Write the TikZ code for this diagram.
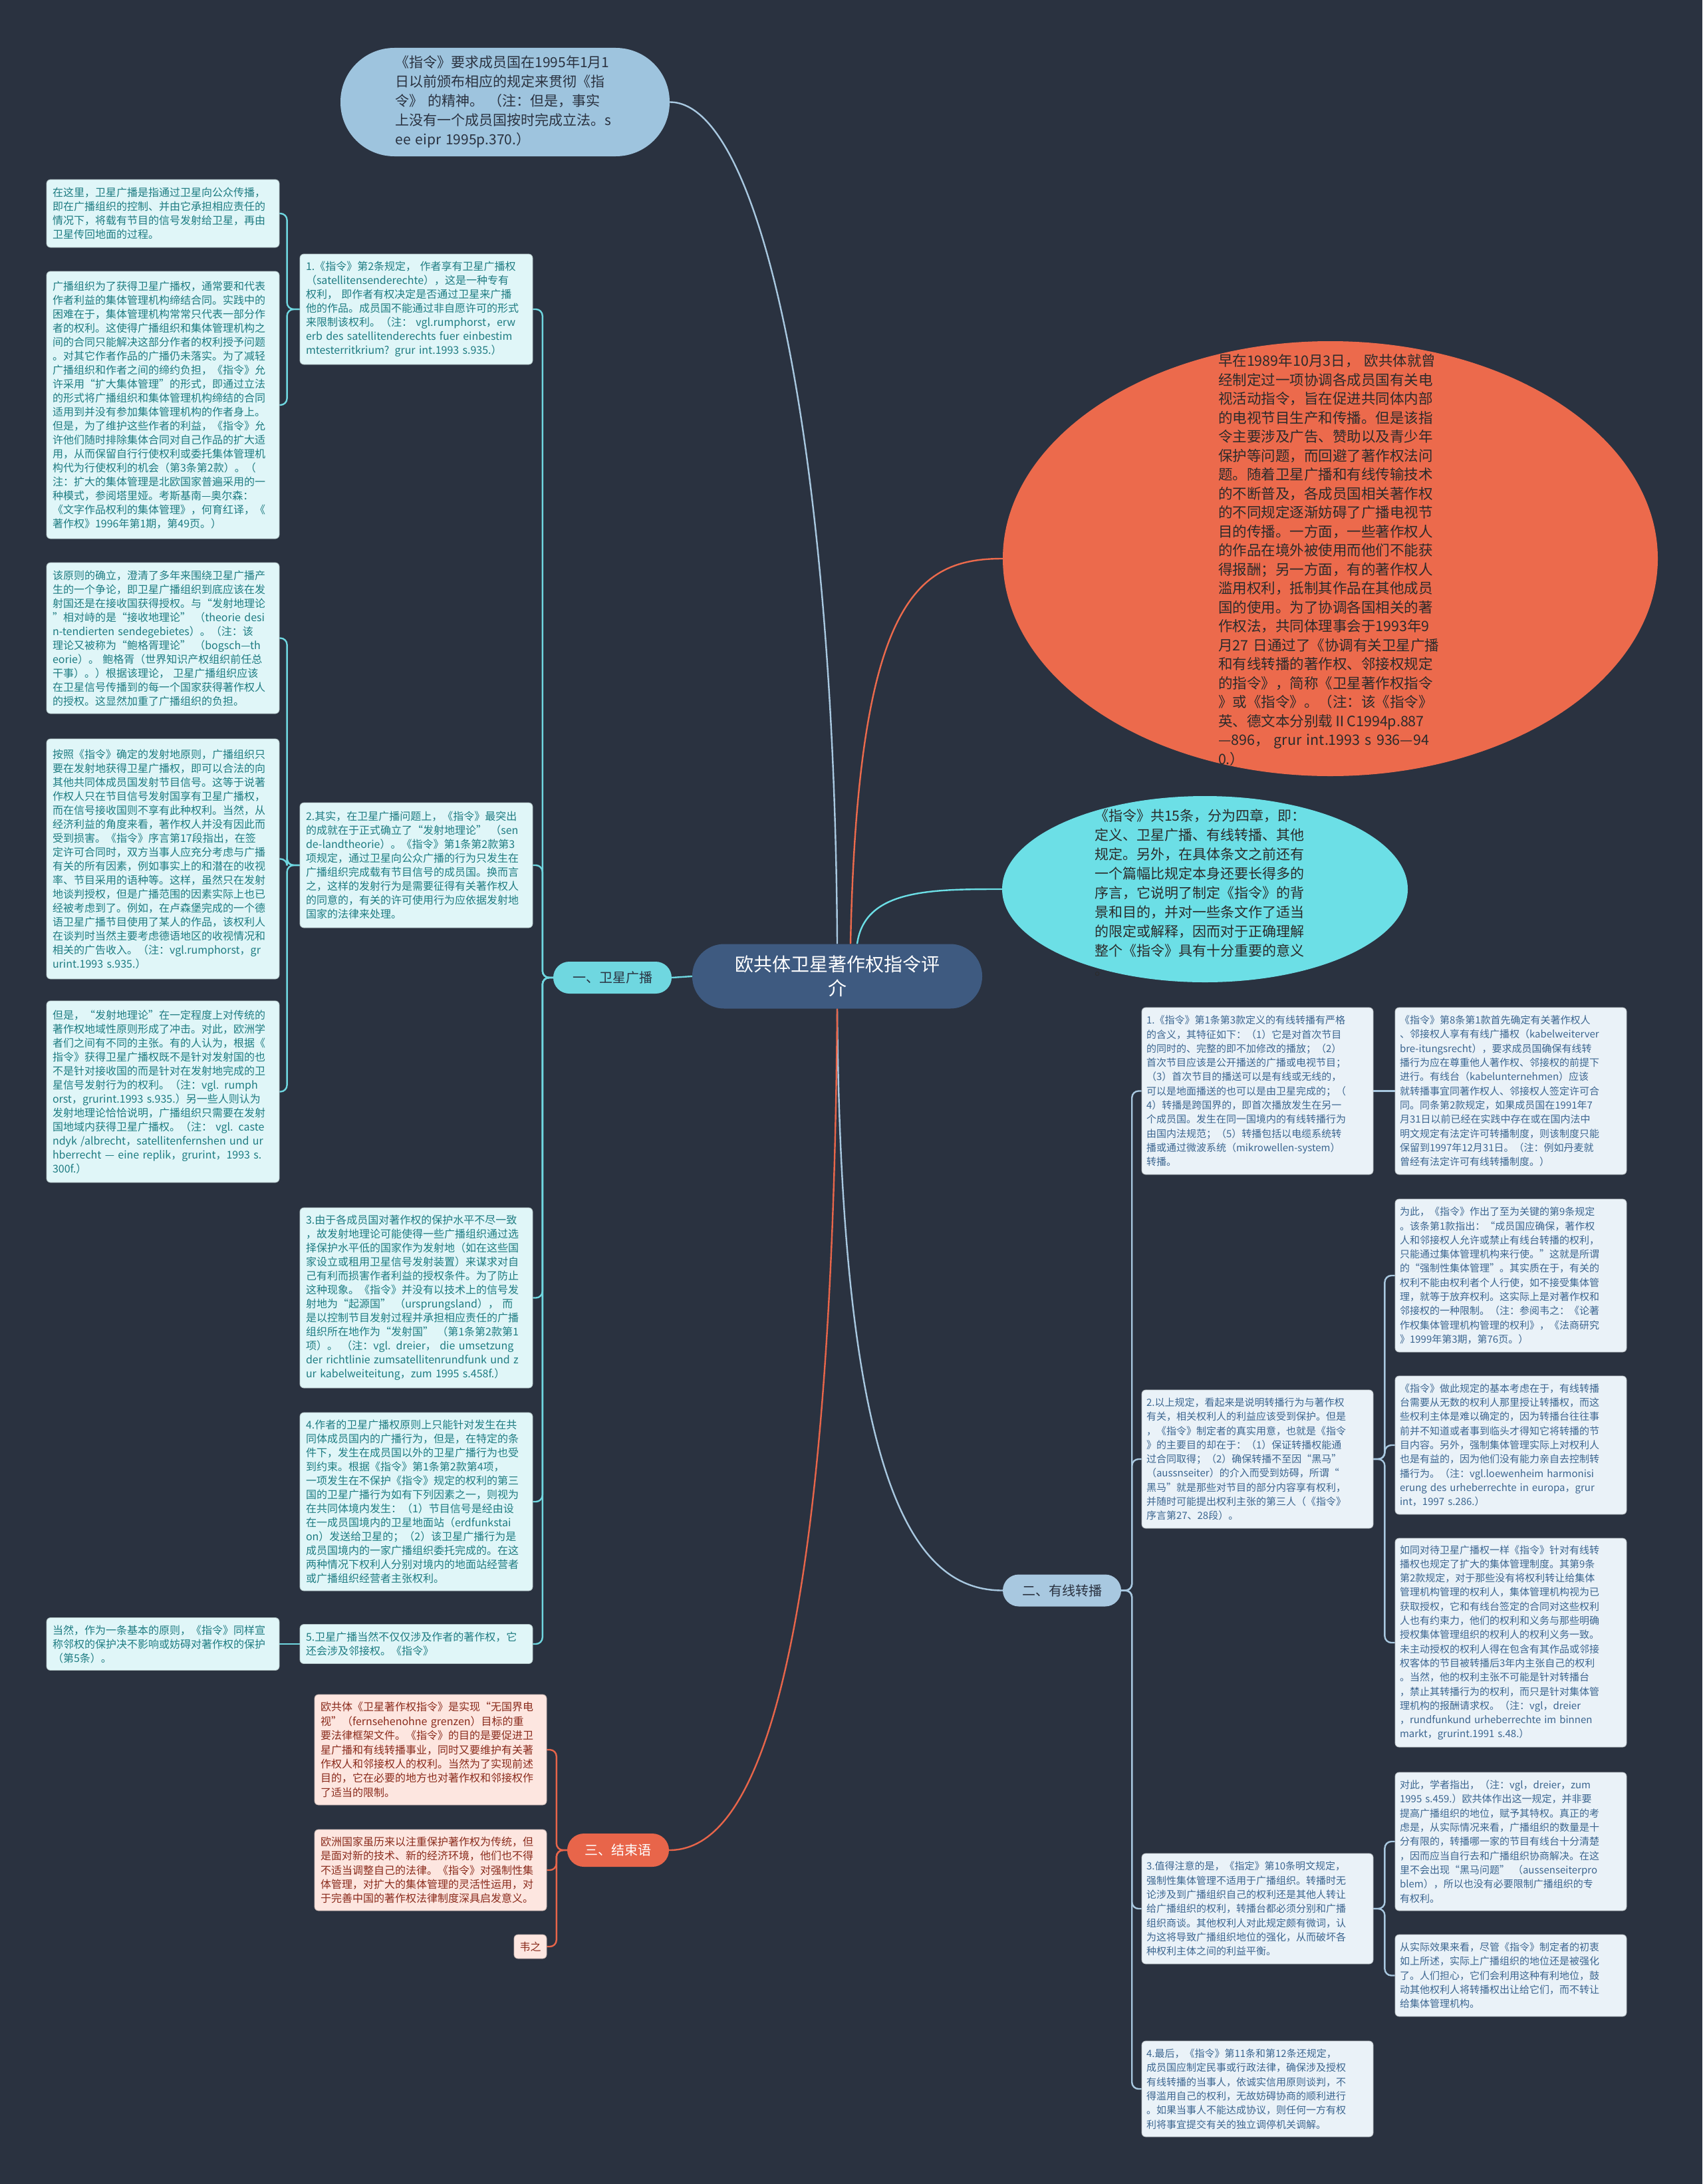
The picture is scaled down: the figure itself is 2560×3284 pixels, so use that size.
\documentclass[tikz,border=0pt]{standalone}
\usepackage{fontspec}
\setmainfont{Noto Sans CJK SC}
\usetikzlibrary{shapes.geometric}
\definecolor{bgc}{HTML}{2A3240}
\definecolor{leafbg}{HTML}{E0F6F8}
\definecolor{leaftx}{HTML}{1E7C82}
\definecolor{rbg}{HTML}{EAF2F8}
\definecolor{rtx}{HTML}{3C6690}
\definecolor{cbg}{HTML}{FDE6E0}
\definecolor{ctx}{HTML}{8A2B1C}
\definecolor{bubc}{HTML}{9EC4DE}
\definecolor{orc}{HTML}{EC6A4C}
\definecolor{cyc}{HTML}{6CDFE6}
\definecolor{cenc}{HTML}{3E5A80}
\definecolor{b1c}{HTML}{6FD7E0}
\definecolor{b2c}{HTML}{A8C8E0}
\definecolor{b3c}{HTML}{E8654A}
\definecolor{darktx}{HTML}{2A3240}
\definecolor{elltx}{HTML}{2B2B2B}
\pgfdeclarelayer{back}\pgfdeclarelayer{lines}\pgfsetlayers{back,lines,main}
\begin{document}
\begin{tikzpicture}[x=1pt,y=-1pt,
  leafL/.style={fill=leafbg, draw=leafbg!80!black, line width=0.8pt, rounded corners=6pt, text=leaftx,
    font=\fontsize{16}{21}\selectfont, align=left, text width=332pt, inner xsep=9pt, inner ysep=0pt},
  leafR/.style={fill=rbg, draw=rbg!80!black, line width=0.8pt, rounded corners=6pt, text=rtx,
    font=\fontsize{15}{21.3}\selectfont, align=left, text width=334pt, inner xsep=7pt, inner ysep=0pt},
  leafC/.style={fill=cbg, draw=cbg!80!black, line width=0.8pt, rounded corners=6pt, text=ctx,
    font=\fontsize{16}{21.4}\selectfont, align=left, text width=331pt, inner xsep=9pt, inner ysep=0pt},
  branch/.style={rounded corners=24pt, minimum width=178pt, minimum height=48pt, inner sep=0pt,
    font=\fontsize{20}{24}\selectfont, text=darktx},
  conn/.style={line width=2.4pt, rounded corners=10pt},
  connB1/.style={conn, draw=b1c},
  connB2/.style={conn, draw=b2c},
  connB3/.style={conn, draw=b3c},
  curveC/.style={line width=2.4pt}
]
\begin{pgfonlayer}{back}
\fill[bgc] (0,0) rectangle (2560,3284);
\end{pgfonlayer}
\useasboundingbox (0,0) rectangle (2560,3284);

% ---------- central and main branches ----------
\node[fill=cenc, rounded corners=48pt, minimum width=436pt, minimum height=97pt, inner sep=0pt,
  text=white, align=center, font=\fontsize{28}{36}\selectfont] (cen) at (1259,1468) {欧共体卫星著作权指令评\\介};
\node[branch, fill=b1c] (B1) at (921,1470) {一、卫星广播};
\node[branch, fill=b2c] (B2) at (1597,2391.5) {二、有线转播};
\node[branch, fill=b3c, minimum width=153pt, minimum height=50pt, rounded corners=25pt, text=white] (B3) at (929.5,2782) {三、结束语};

% ---------- top bubble ----------
\node[fill=bubc, rounded corners=81pt, minimum width=495pt, minimum height=163pt, inner sep=0pt] (top) at (759.5,153.5) {};
\node[text=darktx, align=left, text width=335pt, inner sep=0pt, font=\fontsize{21}{29}\selectfont] (toptxt) at (762,153) {《指令》要求成员国在1995年1月1\\
日以前颁布相应的规定来贯彻《指\\
令》 的精神。 （注：但是，事实\\
上没有一个成员国按时完成立法。s\\
ee eipr 1995p.370.）};

% ---------- ellipses ----------
\node[ellipse, fill=orc, minimum width=985pt, minimum height=654pt, inner sep=0pt] (orange) at (2000.5,840) {};
\node[text=elltx, align=left, text width=340pt, inner sep=0pt, font=\fontsize{21.5}{28.5}\selectfont] (orangetxt) at (2002,842) {早在1989年10月3日， 欧共体就曾\\
经制定过一项协调各成员国有关电\\
视活动指令，旨在促进共同体内部\\
的电视节目生产和传播。但是该指\\
令主要涉及广告、赞助以及青少年\\
保护等问题，而回避了著作权法问\\
题。随着卫星广播和有线传输技术\\
的不断普及，各成员国相关著作权\\
的不同规定逐渐妨碍了广播电视节\\
目的传播。一方面，一些著作权人\\
的作品在境外被使用而他们不能获\\
得报酬；另一方面，有的著作权人\\
滥用权利，抵制其作品在其他成员\\
国的使用。为了协调各国相关的著\\
作权法，共同体理事会于1993年9\\
月27 日通过了《协调有关卫星广播\\
和有线转播的著作权、邻接权规定\\
的指令》，简称《卫星著作权指令\\
》或《指令》。（注：该《指令》\\
英、德文本分别载ⅡC1994p.887\\
—896， grur int.1993 s 936—94\\
0.）};

\node[ellipse, fill=cyc, minimum width=610pt, minimum height=280pt, inner sep=0pt] (cyan) at (1812,1337) {};
\node[text=elltx, align=left, text width=330pt, inner sep=0pt, font=\fontsize{21}{29}\selectfont] (cyantxt) at (1811,1342) {《指令》共15条，分为四章，即：\\
定义、卫星广播、有线转播、其他\\
规定。另外，在具体条文之前还有\\
一个篇幅比规定本身还要长得多的\\
序言，它说明了制定《指令》的背\\
景和目的，并对一些条文作了适当\\
的限定或解释，因而对于正确理解\\
整个《指令》具有十分重要的意义\\
。};

% ---------- left: middle column ----------
\node[leafL, minimum height=166pt] (M1) at (626,465) {1.《指令》第2条规定， 作者享有卫星广播权\\
（satellitensenderechte），这是一种专有\\
权利， 即作者有权决定是否通过卫星来广播\\
他的作品。成员国不能通过非自愿许可的形式\\
来限制该权利。（注： vgl.rumphorst，erw\\
erb des satellitenderechts fuer einbestim\\
mtesterritkrium? grur int.1993 s.935.）};

\node[leafL, minimum height=188pt] (M2) at (626,1301) {2.其实，在卫星广播问题上，《指令》最突出\\
的成就在于正式确立了“发射地理论” （sen\\
de-landtheorie）。《指令》第1条第2款第3\\
项规定，通过卫星向公众广播的行为只发生在\\
广播组织完成载有节目信号的成员国。换而言\\
之，这样的发射行为是需要征得有关著作权人\\
的同意的，有关的许可使用行为应依据发射地\\
国家的法律来处理。};

\node[leafL, minimum height=271pt] (M3) at (626,1951.5) {3.由于各成员国对著作权的保护水平不尽一致\\
，故发射地理论可能使得一些广播组织通过选\\
择保护水平低的国家作为发射地（如在这些国\\
家设立或租用卫星信号发射装置）来谋求对自\\
己有利而损害作者利益的授权条件。为了防止\\
这种现象。《指令》并没有以技术上的信号发\\
射地为“起源国” （ursprungsland）， 而\\
是以控制节目发射过程并承担相应责任的广播\\
组织所在地作为“发射国” （第1条第2款第1\\
项）。 （注：vgl. dreier， die umsetzung\\
der richtlinie zumsatellitenrundfunk und z\\
ur kabelweiteitung，zum 1995 s.458f.）};

\node[leafL, minimum height=268pt] (M4) at (626,2258) {4.作者的卫星广播权原则上只能针对发生在共\\
同体成员国内的广播行为，但是，在特定的条\\
件下，发生在成员国以外的卫星广播行为也受\\
到约束。根据《指令》第1条第2款第4项，\\
一项发生在不保护《指令》规定的权利的第三\\
国的卫星广播行为如有下列因素之一，则视为\\
在共同体境内发生：（1）节目信号是经由设\\
在一成员国境内的卫星地面站（erdfunkstai\\
on）发送给卫星的；（2）该卫星广播行为是\\
成员国境内的一家广播组织委托完成的。在这\\
两种情况下权利人分别对境内的地面站经营者\\
或广播组织经营者主张权利。};

\node[leafL, minimum height=59pt] (M5) at (626,2472) {5.卫星广播当然不仅仅涉及作者的著作权，它\\
还会涉及邻接权。《指令》};

% ---------- left: outer column ----------
\node[leafL, minimum height=102pt] (L1) at (245,321) {在这里，卫星广播是指通过卫星向公众传播，\\
即在广播组织的控制、并由它承担相应责任的\\
情况下，将载有节目的信号发射给卫星，再由\\
卫星传回地面的过程。};

\node[leafL, minimum height=402pt] (L2) at (245,609) {广播组织为了获得卫星广播权，通常要和代表\\
作者利益的集体管理机构缔结合同。实践中的\\
困难在于，集体管理机构常常只代表一部分作\\
者的权利。这使得广播组织和集体管理机构之\\
间的合同只能解决这部分作者的权利授予问题\\
。对其它作者作品的广播仍未落实。为了减轻\\
广播组织和作者之间的缔约负担，《指令》允\\
许采用“扩大集体管理”的形式，即通过立法\\
的形式将广播组织和集体管理机构缔结的合同\\
适用到并没有参加集体管理机构的作者身上。\\
但是，为了维护这些作者的利益，《指令》允\\
许他们随时排除集体合同对自己作品的扩大适\\
用，从而保留自行行使权利或委托集体管理机\\
构代为行使权利的机会（第3条第2款）。（\\
注：扩大的集体管理是北欧国家普遍采用的一\\
种模式，参阅塔里娅。考斯基南—奥尔森：\\
《文字作品权利的集体管理》，何育红译，《\\
著作权》1996年第1期，第49页。）};

\node[leafL, minimum height=227pt] (L3) at (245,959.5) {该原则的确立，澄清了多年来围绕卫星广播产\\
生的一个争论，即卫星广播组织到底应该在发\\
射国还是在接收国获得授权。与“发射地理论\\
”相对峙的是“接收地理论” （theorie desi\\
n-tendierten sendegebietes）。（注：该\\
理论又被称为“鲍格胥理论” （bogsch—th\\
eorie）。 鲍格胥（世界知识产权组织前任总\\
干事）。）根据该理论， 卫星广播组织应该\\
在卫星信号传播到的每一个国家获得著作权人\\
的授权。这显然加重了广播组织的负担。};

\node[leafL, minimum height=361pt] (L4) at (245,1291.5) {按照《指令》确定的发射地原则，广播组织只\\
要在发射地获得卫星广播权，即可以合法的向\\
其他共同体成员国发射节目信号。这等于说著\\
作权人只在节目信号发射国享有卫星广播权，\\
而在信号接收国则不享有此种权利。当然，从\\
经济利益的角度来看，著作权人并没有因此而\\
受到损害。《指令》序言第17段指出，在签\\
定许可合同时，双方当事人应充分考虑与广播\\
有关的所有因素，例如事实上的和潜在的收视\\
率、节目采用的语种等。这样，虽然只在发射\\
地谈判授权，但是广播范围的因素实际上也已\\
经被考虑到了。例如，在卢森堡完成的一个德\\
语卫星广播节目使用了某人的作品，该权利人\\
在谈判时当然主要考虑德语地区的收视情况和\\
相关的广告收入。（注：vgl.rumphorst，gr\\
urint.1993 s.935.）};

\node[leafL, minimum height=273pt] (L5) at (245,1641.5) {但是，“发射地理论”在一定程度上对传统的\\
著作权地域性原则形成了冲击。对此，欧洲学\\
者们之间有不同的主张。有的人认为，根据《\\
指令》获得卫星广播权既不是针对发射国的也\\
不是针对接收国的而是针对在发射地完成的卫\\
星信号发射行为的权利。（注：vgl. rumph\\
orst，grurint.1993 s.935.）另一些人则认为\\
发射地理论恰恰说明，广播组织只需要在发射\\
国地域内获得卫星广播权。（注： vgl. caste\\
ndyk /albrecht，satellitenfernshen und ur\\
hberrecht — eine replik，grurint，1993 s.\\
300f.）};

\node[leafL, minimum height=79pt] (L6) at (245,2472) {当然，作为一条基本的原则，《指令》同样宣\\
称邻权的保护决不影响或妨碍对著作权的保护\\
（第5条）。};

% ---------- right columns ----------
\node[leafR, minimum height=251pt] (R1) at (1891,1640.5) {1.《指令》第1条第3款定义的有线转播有严格\\
的含义，其特征如下：（1）它是对首次节目\\
的同时的、完整的即不加修改的播放；（2）\\
首次节目应该是公开播送的广播或电视节目；\\
（3）首次节目的播送可以是有线或无线的，\\
可以是地面播送的也可以是由卫星完成的；（\\
4）转播是跨国界的，即首次播放发生在另一\\
个成员国。发生在同一国境内的有线转播行为\\
由国内法规范；（5）转播包括以电缆系统转\\
播或通过微波系统（mikrowellen-system）\\
转播。};

\node[leafR, minimum height=208pt] (R2) at (1891,2194) {2.以上规定，看起来是说明转播行为与著作权\\
有关，相关权利人的利益应该受到保护。但是\\
，《指令》制定者的真实用意，也就是《指令\\
》的主要目的却在于：（1）保证转播权能通\\
过合同取得；（2）确保转播不至因“黑马”\\
（aussnseiter）的介入而受到妨碍，所谓“\\
黑马”就是那些对节目的部分内容享有权利，\\
并随时可能提出权利主张的第三人（《指令》\\
序言第27、28段）。};

\node[leafR, minimum height=166pt] (R3) at (1891,2870) {3.值得注意的是，《指定》第10条明文规定，\\
强制性集体管理不适用于广播组织。转播时无\\
论涉及到广播组织自己的权利还是其他人转让\\
给广播组织的权利，转播台都必须分别和广播\\
组织商谈。其他权利人对此规定颇有微词，认\\
为这将导致广播组织地位的强化，从而破坏各\\
种权利主体之间的利益平衡。};

\node[leafR, minimum height=144pt] (R4) at (1891,3141) {4.最后，《指令》第11条和第12条还规定，\\
成员国应制定民事或行政法律，确保涉及授权\\
有线转播的当事人，依诚实信用原则谈判，不\\
得滥用自己的权利，无故妨碍协商的顺利进行\\
。如果当事人不能达成协议，则任何一方有权\\
利将事宜提交有关的独立调停机关调解。};

\node[leafR, minimum height=251pt] (S1) at (2272,1640.5) {《指令》第8条第1款首先确定有关著作权人\\
、邻接权人享有有线广播权（kabelweiterver\\
bre-itungsrecht），要求成员国确保有线转\\
播行为应在尊重他人著作权、邻接权的前提下\\
进行。有线台（kabelunternehmen）应该\\
就转播事宜同著作权人、邻接权人签定许可合\\
同。同条第2款规定，如果成员国在1991年7\\
月31日以前已经在实践中存在或在国内法中\\
明文规定有法定许可转播制度，则该制度只能\\
保留到1997年12月31日。（注：例如丹麦就\\
曾经有法定许可有线转播制度。）};

\node[leafR, minimum height=230pt] (S2) at (2272,1918) {为此，《指令》作出了至为关键的第9条规定\\
。该条第1款指出：“成员国应确保，著作权\\
人和邻接权人允许或禁止有线台转播的权利，\\
只能通过集体管理机构来行使。”这就是所谓\\
的“强制性集体管理”。其实质在于，有关的\\
权利不能由权利者个人行使，如不接受集体管\\
理，就等于放弃权利。这实际上是对著作权和\\
邻接权的一种限制。（注：参阅韦之：《论著\\
作权集体管理机构管理的权利》，《法商研究\\
》1999年第3期，第76页。）};

\node[leafR, minimum height=208pt] (S3) at (2272,2173) {《指令》做此规定的基本考虑在于，有线转播\\
台需要从无数的权利人那里授让转播权，而这\\
些权利主体是难以确定的，因为转播台往往事\\
前并不知道或者事到临头才得知它将转播的节\\
目内容。另外，强制集体管理实际上对权利人\\
也是有益的，因为他们没有能力亲自去控制转\\
播行为。（注：vgl.loewenheim harmonisi\\
erung des urheberrechte in europa，grur\\
int，1997 s.286.）};

\node[leafR, minimum height=314pt] (S4) at (2272,2470) {如同对待卫星广播权一样《指令》针对有线转\\
播权也规定了扩大的集体管理制度。其第9条\\
第2款规定，对于那些没有将权利转让给集体\\
管理机构管理的权利人，集体管理机构视为已\\
获取授权，它和有线台签定的合同对这些权利\\
人也有约束力，他们的权利和义务与那些明确\\
授权集体管理组织的权利人的权利义务一致。\\
未主动授权的权利人得在包含有其作品或邻接\\
权客体的节目被转播后3年内主张自己的权利\\
。当然，他的权利主张不可能是针对转播台\\
，禁止其转播行为的权利，而只是针对集体管\\
理机构的报酬请求权。（注：vgl，dreier\\
，rundfunkund urheberrechte im binnen\\
markt，grurint.1991 s.48.）};

\node[leafR, minimum height=208pt] (S5) at (2272,2769) {对此，学者指出，（注：vgl，dreier，zum\\
1995 s.459.）欧共体作出这一规定，并非要\\
提高广播组织的地位，赋予其特权。真正的考\\
虑是，从实际情况来看，广播组织的数量是十\\
分有限的，转播哪一家的节目有线台十分清楚\\
，因而应当自行去和广播组织协商解决。在这\\
里不会出现“黑马问题” （aussenseiterpro\\
blem），所以也没有必要限制广播组织的专\\
有权利。};

\node[leafR, minimum height=123pt] (S6) at (2272,2970.5) {从实际效果来看，尽管《指令》制定者的初衷\\
如上所述，实际上广播组织的地位还是被强化\\
了。人们担心，它们会利用这种有利地位，鼓\\
动其他权利人将转播权出让给它们，而不转让\\
给集体管理机构。};

% ---------- conclusion ----------
\node[leafC, minimum height=166pt] (C1) at (647.5,2631) {欧共体《卫星著作权指令》是实现“无国界电\\
视”（fernsehenohne grenzen）目标的重\\
要法律框架文件。《指令》的目的是要促进卫\\
星广播和有线转播事业，同时又要维护有关著\\
作权人和邻接权人的权利。当然为了实现前述\\
目的，它在必要的地方也对著作权和邻接权作\\
了适当的限制。};

\node[leafC, minimum height=122pt] (C2) at (647.5,2812) {欧洲国家虽历来以注重保护著作权为传统，但\\
是面对新的技术、新的经济环境，他们也不得\\
不适当调整自己的法律。《指令》对强制性集\\
体管理，对扩大的集体管理的灵活性运用，对\\
于完善中国的著作权法律制度深具启发意义。};

\node[leafC, text width=, align=center, inner xsep=0pt, minimum width=49pt, minimum height=36pt] (C3) at (797.5,2927) {韦之};

% ---------- connectors ----------
\begin{pgfonlayer}{lines}
\draw[curveC, draw=b2c] (cen.north) .. controls (1255,700) and (1150,153.5) .. (top.east);
\draw[curveC, draw=orc] ([xshift=20pt]cen.north) .. controls (1290,900) and (1380,840) .. (orange.west);
\draw[curveC, draw=cyc] ([xshift=30pt]cen.north) .. controls (1300,1337) and (1400,1337) .. (cyan.west);
\draw[curveC, draw=b2c] (cen.south) .. controls (1265,2250) and (1380,2391.5) .. (B2.west);
\draw[curveC, draw=b3c] (cen.south) .. controls (1250,2650) and (1100,2782) .. (B3.east);
\draw[curveC, draw=b1c] (cen.west) -- (B1.east);

\foreach \m in {M1,M2,M3,M4,M5}{
  \draw[connB1] (B1.west) -- ++(-16,0) |- (\m.east);
}
\foreach \l in {L1,L2}{
  \draw[connB1] (M1.west) -- ++(-19,0) |- (\l.east);
}
\foreach \l in {L3,L4,L5}{
  \draw[connB1] (M2.west) -- ++(-19,0) |- (\l.east);
}
\draw[connB1] (M5.west) -- (L6.east);

\foreach \r in {R1,R2,R3,R4}{
  \draw[connB2] (B2.east) -- ++(16,0) |- (\r.west);
}
\draw[connB2] (R1.east) -- (S1.west);
\foreach \s in {S2,S3,S4}{
  \draw[connB2] (R2.east) -- ++(17,0) |- (\s.west);
}
\foreach \s in {S5,S6}{
  \draw[connB2] (R3.east) -- ++(17,0) |- (\s.west);
}

\foreach \c in {C1,C2,C3}{
  \draw[connB3] (B3.west) -- ++(-16,0) |- (\c.east);
}
\end{pgfonlayer}
\end{tikzpicture}
\end{document}
